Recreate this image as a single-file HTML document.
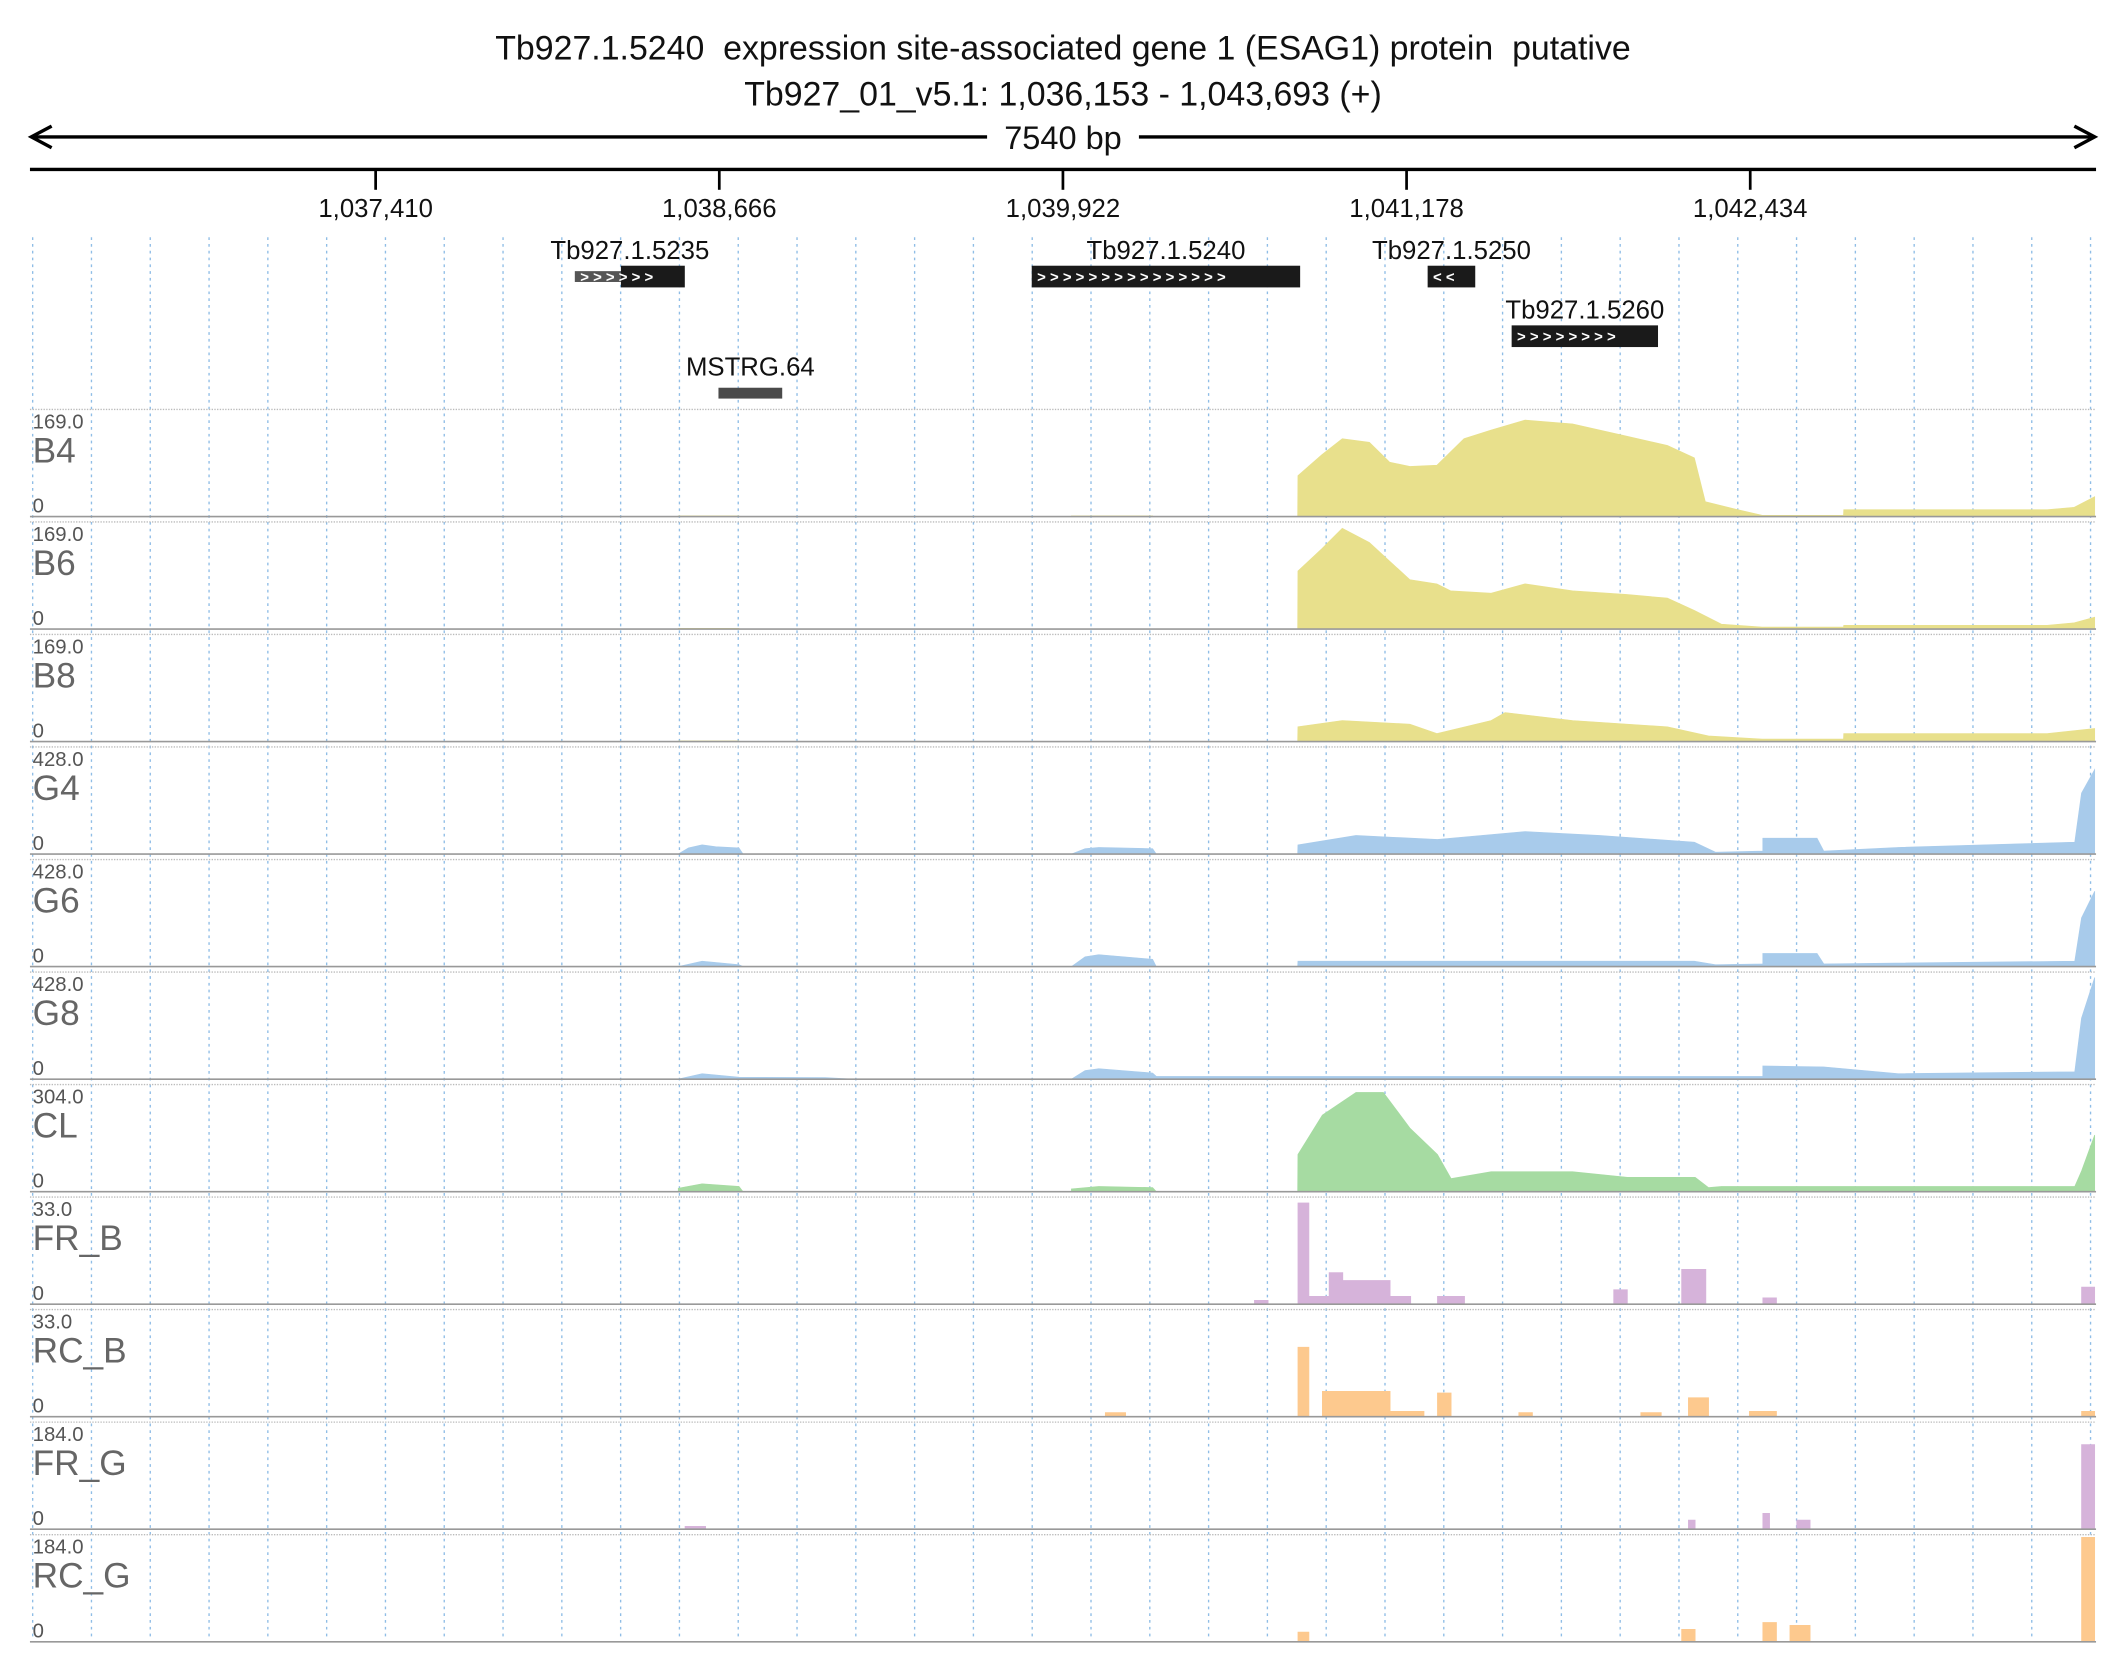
<!DOCTYPE html>
<html><head><meta charset="utf-8"><style>
html,body{margin:0;padding:0;background:#fff;}
svg{display:block;font-family:"Liberation Sans",sans-serif;}
</style></head><body>
<svg id="chart" width="2126" height="1677" viewBox="0 0 1568 1237" xmlns="http://www.w3.org/2000/svg">
<g id="static">
<text x="784" y="44" font-size="25" text-anchor="middle" fill="#111" xml:space="preserve">Tb927.1.5240  expression site-associated gene 1 (ESAG1) protein  putative</text>
<text x="784" y="78" font-size="25" text-anchor="middle" fill="#111">Tb927_01_v5.1: 1,036,153 - 1,043,693 (+)</text>
<g stroke="#000" stroke-width="2.5" fill="none">
<line x1="24" y1="101" x2="728" y2="101"/><line x1="840" y1="101" x2="1544" y2="101"/>
<polyline points="38,93 23,101 38,109"/><polyline points="1530,93 1545,101 1530,109"/>
</g>
<text x="784" y="110" font-size="24" text-anchor="middle" fill="#111">7540 bp</text>
<line x1="22" y1="125" x2="1546" y2="125" stroke="#000" stroke-width="2.5"/>
</g>
<g id="grid"></g><g id="ruler"></g><g id="genes"></g><g id="tracks"></g>
</svg>
<script>
const NS="http://www.w3.org/2000/svg";
const regionStart=1036153, regionLen=7540;
const rulerTicks=[1037410,1038666,1039922,1041178,1042434];
const trackNames=["B4","B6","B8","G4","G6","G8","CL","FR_B","RC_B","FR_G","RC_G"];
const trackMax=[169,169,169,428,428,428,304,33,33,184,184];
const trackColors=["#e8e08c","#e8e08c","#e8e08c","#a8cbeb","#a8cbeb","#a8cbeb","#a6dba2","#d6b3da","#fdc98e","#d6b3da","#fdc98e"];
// coverage: [offset bp from region start, value]
const b4Cov=[[2363,0],[2363,1],[2585,1],[2585,0],[3800,0],[3800,1],[4097,1],[4097,0],[4627,0],[4628,66],[4715,100],[4790,126],[4889,120],[4963,88],[5037,81],[5136,83],[5235,126],[5334,140],[5458,156],[5632,150],[5830,130],[5978,115],[6077,95],[6117,24],[6226,12],[6325,2],[6622,2],[6623,11],[7366,11],[7465,15],[7540,32]];
const b6Cov=[[2363,0],[2363,1],[2585,1],[2585,0],[4627,0],[4628,94],[4715,130],[4790,163],[4889,140],[4963,110],[5037,80],[5136,73],[5186,62],[5334,58],[5458,73],[5632,62],[5830,56],[5978,50],[6077,30],[6176,8],[6325,3],[6622,3],[6623,6],[7366,6],[7465,10],[7540,19]];
const b8Cov=[[2363,0],[2363,1],[2585,1],[2585,0],[4627,0],[4628,24],[4790,34],[5037,28],[5136,13],[5334,34],[5385,47],[5632,34],[5978,24],[6129,9],[6325,4],[6622,4],[6623,13],[7366,13],[7540,21]];
const g4Cov=[[2363,0],[2400,25],[2450,38],[2500,30],[2585,25],[2600,0],[3800,0],[3850,22],[3900,27],[4097,22],[4110,0],[4627,0],[4628,38],[4840,76],[5138,60],[5458,92],[5731,76],[6077,49],[6154,8],[6327,12],[6327,65],[6525,65],[6550,12],[6823,27],[7467,49],[7492,250],[7540,347]];
const g6Cov=[[2363,0],[2450,22],[2585,8],[2600,0],[3800,0],[3850,40],[3900,49],[4097,30],[4110,0],[4627,0],[4628,22],[6077,22],[6154,8],[6327,11],[6327,54],[6525,54],[6550,11],[7467,22],[7492,200],[7540,309]];
const g8Cov=[[2363,0],[2450,22],[2585,8],[2900,6],[3000,0],[3800,0],[3850,35],[3900,43],[4097,25],[4110,11],[4627,11],[6327,11],[6327,54],[6550,50],[6823,22],[7467,30],[7492,250],[7540,417]];
const clCov=[[2363,0],[2363,10],[2450,23],[2585,15],[2600,0],[3800,0],[3800,8],[3900,15],[4097,12],[4110,0],[4627,0],[4628,108],[4717,223],[4840,289],[4940,289],[5037,185],[5138,108],[5188,38],[5334,58],[5632,58],[5832,42],[6080,42],[6129,12],[6176,15],[7467,15],[7492,60],[7540,165]];
const frbCov=[[4469,0],[4469,1.2],[4519,1.2],[4519,0],[4628,0],[4628,32],[4668,32],[4668,2.5],[4742,2.5],[4742,10],[4792,10],[4792,7.5],[4965,7.5],[4965,2.5],[5040,2.5],[5040,0],[5138,0],[5138,2.5],[5237,2.5],[5237,0],[5782,0],[5782,4.6],[5832,4.6],[5832,0],[6030,0],[6030,11],[6119,11],[6119,0],[6327,0],[6327,2],[6377,2],[6377,0],[7492,0],[7492,5.4],[7540,5.4]];
const rcbCov=[[3924,0],[3924,1.3],[3998,1.3],[3998,0],[4628,0],[4628,22],[4668,22],[4668,0],[4717,0],[4717,8],[4965,8],[4965,1.7],[5089,1.7],[5089,0],[5138,0],[5138,7.5],[5188,7.5],[5188,0],[5435,0],[5435,1.3],[5485,1.3],[5485,0],[5881,0],[5881,1.3],[5956,1.3],[5956,0],[6055,0],[6055,6],[6129,6],[6129,0],[6278,0],[6278,1.7],[6377,1.7],[6377,0],[7492,0],[7492,1.7],[7540,1.7]];
const frgCov=[[2388,0],[2388,5],[2463,5],[2463,0],[6055,0],[6055,16],[6080,16],[6080,0],[6327,0],[6327,28],[6352,28],[6352,0],[6451,0],[6451,16],[6500,16],[6500,0],[7492,0],[7492,149],[7540,149]];
const rcgCov=[[4628,0],[4628,17],[4668,17],[4668,0],[6030,0],[6030,22],[6080,22],[6080,0],[6327,0],[6327,34],[6377,34],[6377,0],[6426,0],[6426,29],[6500,29],[6500,0],[7492,0],[7492,184],[7540,184]];
const trackData=[b4Cov,b6Cov,b8Cov,g4Cov,g6Cov,g8Cov,clCov,frbCov,rcbCov,frgCov,rcgCov];
const geneNames=["Tb927.1.5235","Tb927.1.5240","Tb927.1.5250","Tb927.1.5260","MSTRG.64"];
const geneStart=[1985,3655,5102,5409,2510];
const geneEnd=[2387,4636,5276,5944,2743];
const geneStrand=["+","+","-","+","."];

const X0=23.3, X1=1545;
const xScale=o=>X0+(o/regionLen)*(X1-X0);
const xGen=g=>xScale(g-regionStart);
function mk(tag,attrs,parent){const e=document.createElementNS(NS,tag);for(const k in attrs)e.setAttribute(k,attrs[k]);parent.appendChild(e);return e;}

const grid=document.getElementById('grid');
for(let i=0;i<36;i++){const x=24+i*43.37;
 const l=mk('line',{x1:x,y1:175,x2:x,y2:1208,stroke:'#8fbde6','stroke-width':1,'stroke-dasharray':'2,3'},grid);
 
 }

const ruler=document.getElementById('ruler');
rulerTicks.forEach(t=>{const x=xGen(t);
 const l=mk('line',{x1:x,y1:125,x2:x,y2:140,stroke:'#000','stroke-width':2},ruler);
 
 
 const tx=mk('text',{x:x,y:160,'font-size':19,'text-anchor':'middle',fill:'#111'},ruler);
 tx.textContent=t.toLocaleString('en-US');
 
 });

const genes=document.getElementById('genes');
const geneRowY=[204,204,204,248,290];
geneNames.forEach((n,i)=>{const x1=xScale(geneStart[i]),x2=xScale(geneEnd[i]),y=geneRowY[i];
 const g=mk('g',{},genes);
 
 
 const t=mk('text',{x:(x1+x2)/2,y:y-13,'font-size':19,'text-anchor':'middle',fill:'#111'},g);t.textContent=n;
 
 
 if(geneStrand[i]=='.'){mk('rect',{x:x1,y:y-4,width:x2-x1,height:8,fill:'#4a4a4a'},g);return;}
 if(i==0){mk('rect',{x:x1,y:y-4,width:34,height:8,fill:'#555'},g);mk('rect',{x:x1+34,y:y-8,width:x2-x1-34,height:16,fill:'#1a1a1a'},g);}
 else mk('rect',{x:x1,y:y-8,width:x2-x1,height:16,fill:'#1a1a1a'},g);
 const n2=Math.floor((x2-x1-6)/12);const ch=geneStrand[i]=='+'?'>':'<';
 const a=mk('text',{x:x1+4,y:y+4,'font-size':11,'font-weight':'bold',fill:'#fff'},g);
 a.textContent=Array(n2).fill(ch).join(' ');
 
 });

const tracks=document.getElementById('tracks');
const trackTop=302, trackH=83;
trackNames.forEach((n,i)=>{const top=trackTop+i*trackH, base=top+79, h=77;
 const g=mk('g',{},tracks);
 
 
 mk('line',{x1:22,y1:top,x2:1546,y2:top,stroke:'#bbb','stroke-width':1,'stroke-dasharray':'1,1'},g);
 const y=v=>base-(v/trackMax[i])*h;
 const d=trackData[i];
 let p='M'+xScale(d[0][0])+','+base;
 d.forEach(q=>{p+=' L'+xScale(q[0]).toFixed(1)+','+y(q[1]).toFixed(1);});
 p+=' L'+xScale(d[d.length-1][0])+','+base+' Z';
 const a=mk('path',{d:p,fill:trackColors[i],stroke:trackColors[i],'stroke-width':0.5},g);
 
 
 mk('line',{x1:22,y1:base,x2:1546,y2:base,stroke:'#999','stroke-width':1.2},g);
 const mx=mk('text',{x:24,y:top+14,'font-size':15,fill:'#555'},g);mx.textContent=trackMax[i].toFixed(1);
 
 
 const nm=mk('text',{x:24,y:top+39,'font-size':26,fill:'#666'},g);nm.textContent=n;
 
 
 const z=mk('text',{x:24,y:base-3,'font-size':15,fill:'#555'},g);z.textContent='0';
 
 });
</script>
</body></html>
